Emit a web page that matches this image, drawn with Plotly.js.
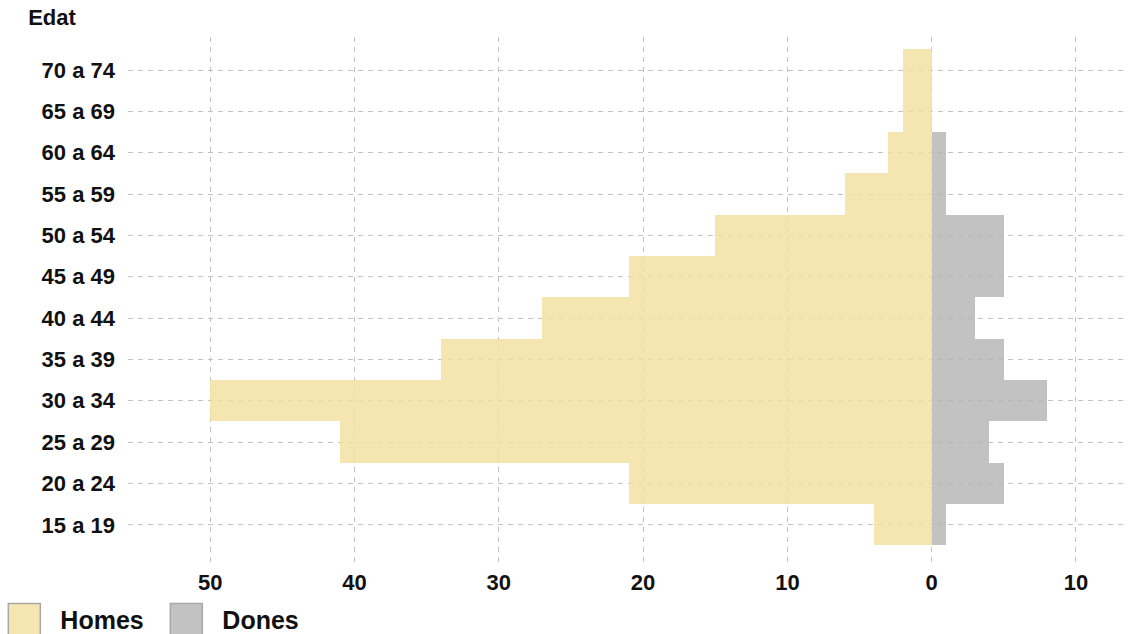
<!DOCTYPE html>
<html>
<head>
<meta charset="utf-8">
<script src="https://cdn.plot.ly/plotly-3.0.1.min.js"></script>
<style>html,body{margin:0;padding:0;background:#fff;}#chart{width:1128px;height:634px;}</style>
</head>
<body>
<div id="chart"></div>
<script>
const ageGroups = ['15 a 19','20 a 24','25 a 29','30 a 34','35 a 39','40 a 44','45 a 49','50 a 54','55 a 59','60 a 64','65 a 69','70 a 74'];
const homes = [4,21,41,50,34,27,21,15,6,3,2,2];
const dones = [1,5,4,8,5,3,5,5,1,1,0,0];
const xTickVals = [-50,-40,-30,-20,-10,0,10];
const xTickText = ['50','40','30','20','10','0','10'];

const FONT = 'Arial, "Liberation Sans", sans-serif';

const traces = [
  {
    type: 'bar', orientation: 'h', name: 'Homes',
    y: ageGroups, x: homes.map(v => -v),
    marker: {color: 'rgba(243,223,156,0.8)', line: {width: 0}},
    hoverinfo: 'skip'
  },
  {
    type: 'bar', orientation: 'h', name: 'Dones',
    y: ageGroups, x: dones,
    marker: {color: 'rgba(179,179,179,0.8)', line: {width: 0}},
    hoverinfo: 'skip'
  }
];

const layout = {
  width: 1128, height: 634,
  margin: {l: 128, r: 3, t: 37, b: 72, autoexpand: false},
  paper_bgcolor: '#fff', plot_bgcolor: '#fff',
  barmode: 'relative', bargap: 0,
  font: {family: FONT, color: '#111'},
  title: {text: '<b>Edat</b>', x: 0.025, xanchor: 'left', xref: 'container', y: 0.972, yanchor: 'middle', yref: 'container', font: {size: 22, family: FONT, color: '#111'}},
  xaxis: {
    range: [-55.7, 13.4],
    tickvals: xTickVals, ticktext: xTickText,
    tickfont: {size: 22, family: FONT, color: '#111', weight: 'bold'},
    showgrid: true, gridcolor: '#c2c2c2', gridwidth: 1, griddash: '5px,5px',
    zeroline: false, showline: false, ticks: '',
    ticklabelstandoff: 5,
    fixedrange: true
  },
  yaxis: {
    type: 'category', categoryorder: 'array', categoryarray: ageGroups,
    range: [-0.9, 11.8],
    tickfont: {size: 22, family: FONT, color: '#111', weight: 'bold'},
    showgrid: true, gridcolor: '#c2c2c2', gridwidth: 1, griddash: '5px,5px',
    zeroline: false, showline: false, ticks: '',
    ticklabelstandoff: 12,
    fixedrange: true
  },
  showlegend: true,
  legend: {
    orientation: 'h', x: -0.108, xanchor: 'left', y: -0.11, yanchor: 'middle',
    font: {size: 25, family: FONT, color: '#111', weight: 'bold'},
    entrywidth: 117, entrywidthmode: 'pixels',
    traceorder: 'normal', bgcolor: 'rgba(0,0,0,0)'
  }
};

Plotly.newPlot('chart', traces, layout, {displayModeBar: false, staticPlot: true}).then(gd => {
  // enlarge legend swatches to match the reference's large square keys
  gd.querySelectorAll('.legend [clip-path]').forEach(e => e.removeAttribute('clip-path'));
  gd.querySelectorAll('.legend .legendpoints path').forEach(p => {
    p.setAttribute('d', 'M0,16H-32V-16H0Z');
    p.style.stroke = '#a8a8a8';
    p.style.strokeWidth = '1.5px';
  });
});
</script>
</body>
</html>
